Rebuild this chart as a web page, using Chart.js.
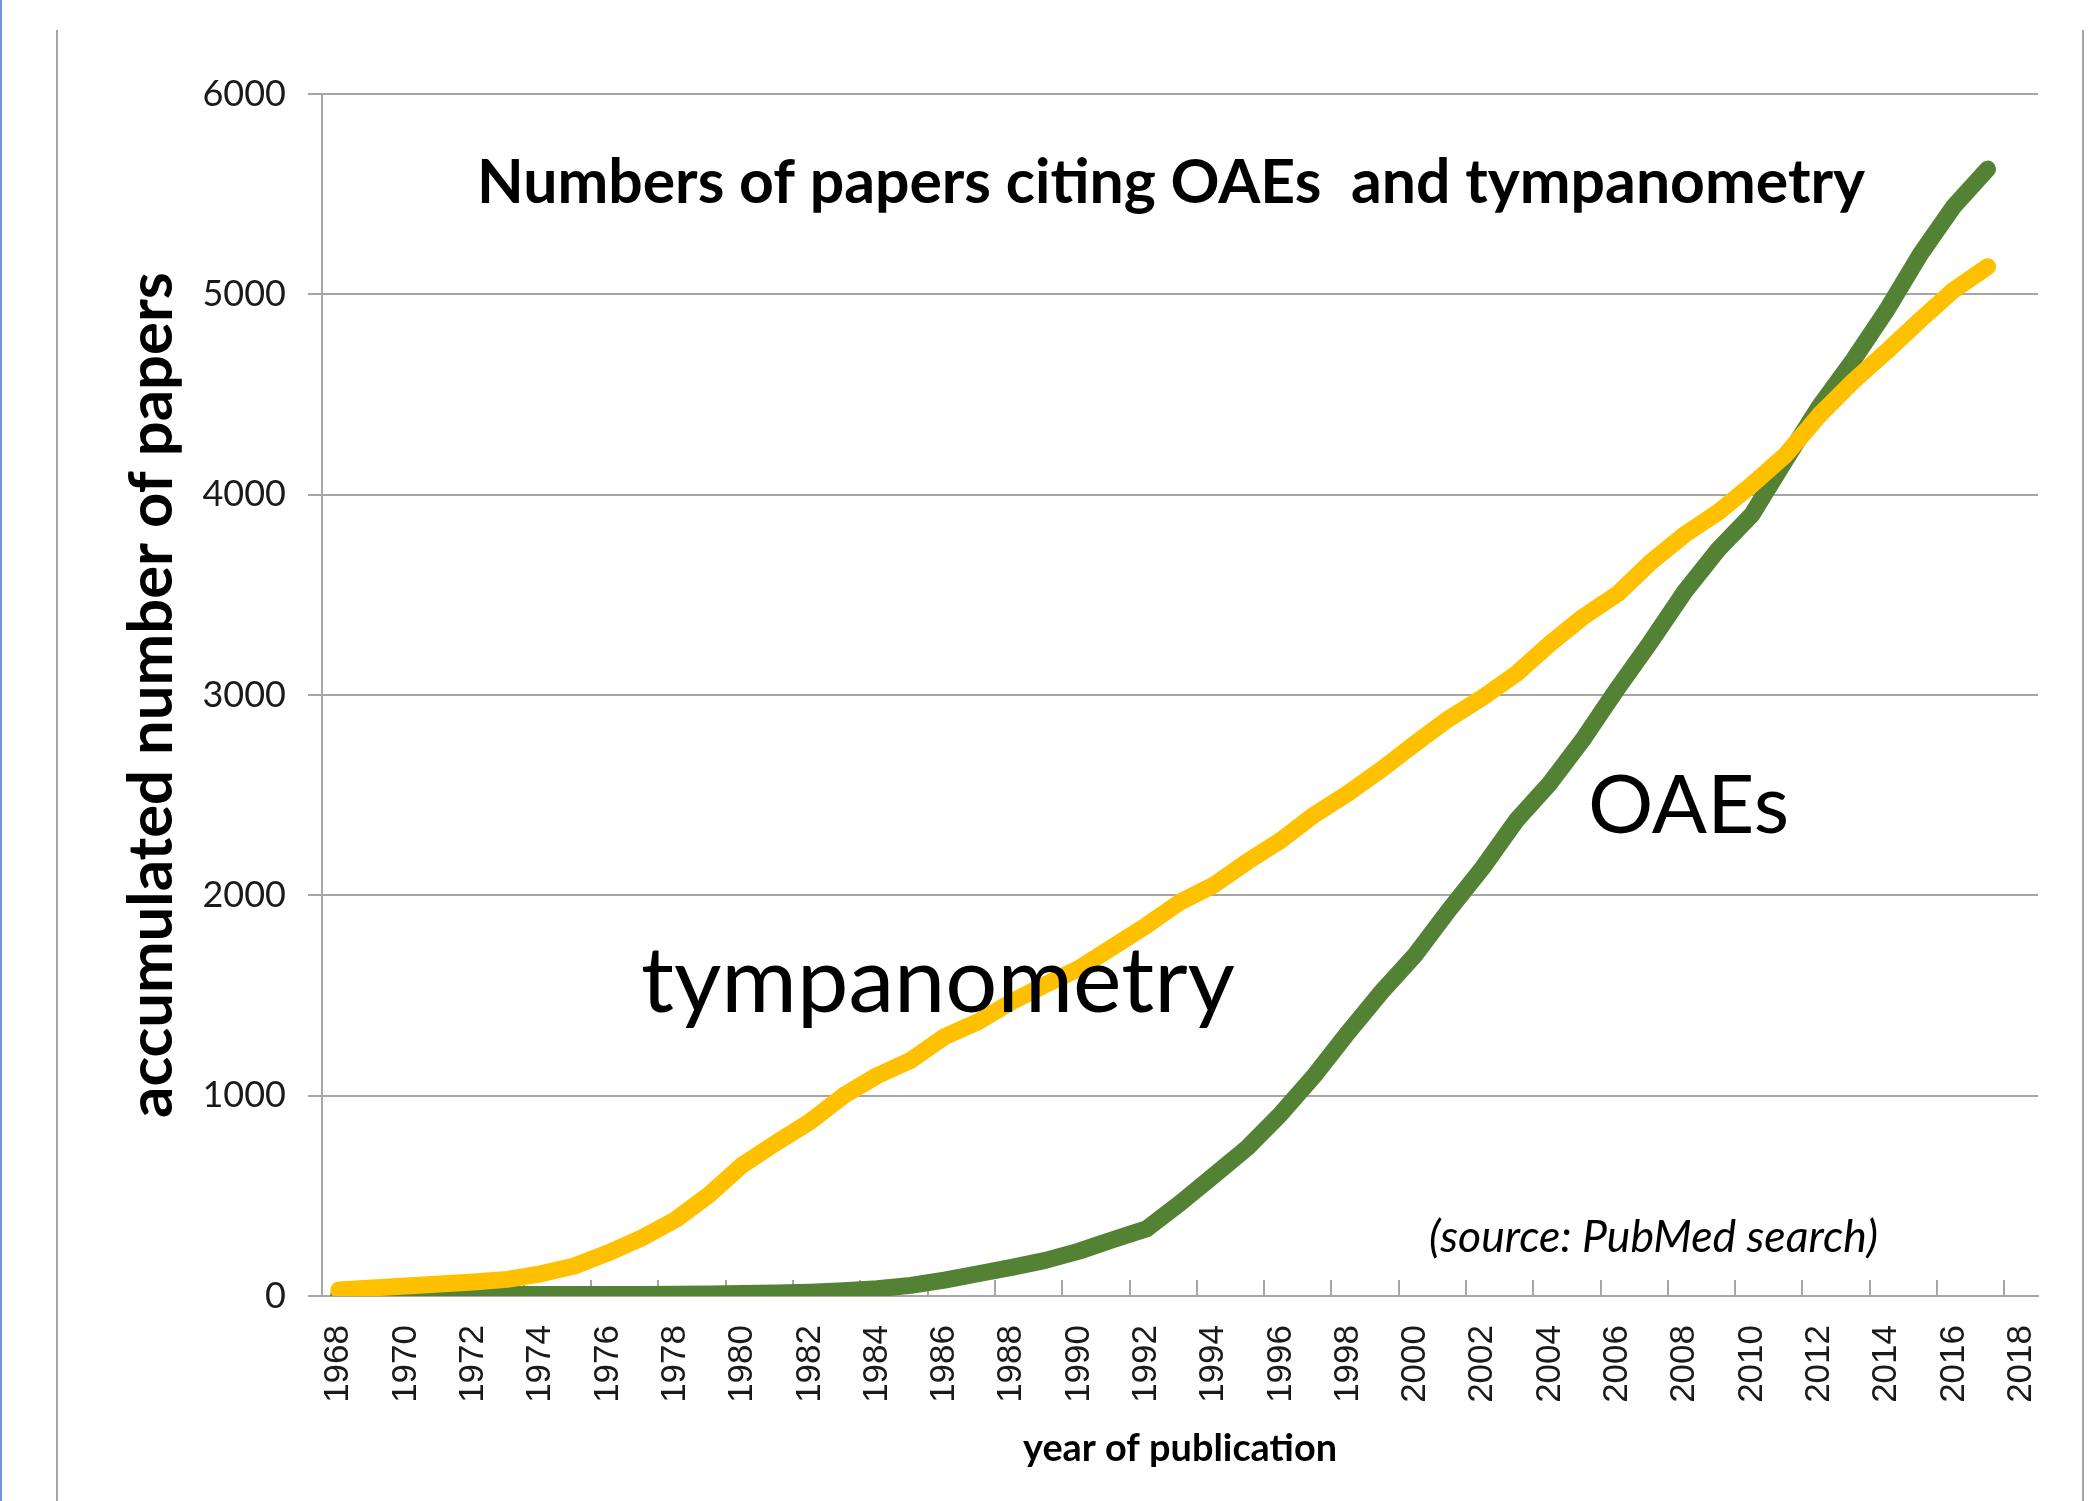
<!DOCTYPE html>
<html>
<head>
<meta charset="utf-8">
<title>Numbers of papers citing OAEs and tympanometry</title>
<script src="https://cdn.jsdelivr.net/npm/chart.js@4.4.1/dist/chart.umd.min.js"></script>
<style>
  html, body { margin: 0; padding: 0; background: #fff; }
  #wrap { position: relative; width: 2095px; height: 1501px; overflow: hidden; background: #fff; }
  #chart { position: absolute; left: 0; top: 0; }
  .edge { position: absolute; }
</style>
</head>
<body>
<div id="wrap">
  <div class="edge" style="left:0;top:0;width:2px;height:1501px;background:#6f97d8"></div>
  <div class="edge" style="left:56px;top:30px;width:2px;height:1471px;background:#a6a6a6"></div>
  <div class="edge" style="left:2082px;top:30px;width:2px;height:1471px;background:#a6a6a6"></div>
  <canvas id="chart" width="2095" height="1501"></canvas>
</div>
<script>
// categories on the x axis (one per year, only every second one is labelled)
const years = [
  '1968', '1969', '1970', '1971', '1972', '1973', '1974', '1975', '1976', '1977',
  '1978', '1979', '1980', '1981', '1982', '1983', '1984', '1985', '1986', '1987',
  '1988', '1989', '1990', '1991', '1992', '1993', '1994', '1995', '1996', '1997',
  '1998', '1999', '2000', '2001', '2002', '2003', '2004', '2005', '2006', '2007',
  '2008', '2009', '2010', '2011', '2012', '2013', '2014', '2015', '2016', '2017',
  '2018'
];

// accumulated number of papers, 1968 .. 2017
const tympanometry = [
  30, 40, 50, 60, 70, 83, 111, 150, 215, 290,
  380, 505, 655, 765, 870, 1000, 1100, 1177, 1294, 1369,
  1469, 1554, 1635, 1742, 1849, 1966, 2051, 2168, 2275, 2403,
  2510, 2630, 2759, 2883, 2988, 3107, 3256, 3392, 3504, 3665,
  3801, 3913, 4050, 4199, 4397, 4565, 4715, 4872, 5022, 5138
];

const oaes = [
  5, 5, 6, 6, 6, 7, 7, 7, 8, 8,
  9, 10, 12, 15, 19, 26, 36, 53, 79, 111,
  143, 178, 224, 281, 335, 463, 601, 740, 910, 1102,
  1316, 1520, 1705, 1928, 2139, 2375, 2561, 2784, 3032, 3268,
  3516, 3727, 3901, 4174, 4440, 4670, 4920, 5200, 5440, 5625
];

const yTicks = [0, 1000, 2000, 3000, 4000, 5000, 6000];

const calibriLike = 'Lato';
const measureCtx = document.createElement('canvas').getContext('2d');

// font size that makes a text as wide as it is in the picture
function fitSize(text, style, weight, width) {
  measureCtx.font = style + ' ' + weight + ' 100px ' + calibriLike;
  return 100 * width / measureCtx.measureText(text).width;
}

const notes = [
  { text: 'Numbers of papers citing OAEs  and tympanometry', style: 'normal', weight: 'bold', x: 477, y: 203, width: 1388 },
  { text: 'tympanometry', style: 'normal', weight: 'normal', x: 641, y: 1012, width: 594 },
  { text: 'OAEs', style: 'normal', weight: 'normal', x: 1588, y: 833, width: 201 },
  { text: '(source: PubMed search)', style: 'italic', weight: 'normal', x: 1429, y: 1252, width: 449 }
];

const notesPlugin = {
  id: 'notes',
  afterDraw(chart) {
    const ctx = chart.ctx;
    ctx.save();
    ctx.fillStyle = '#000';
    ctx.textAlign = 'left';
    ctx.textBaseline = 'alphabetic';
    notes.forEach(n => {
      const size = fitSize(n.text, n.style, n.weight, n.width);
      ctx.font = n.style + ' ' + n.weight + ' ' + size.toFixed(1) + 'px ' + calibriLike;
      ctx.fillText(n.text, n.x, n.y);
    });
    ctx.restore();
  }
};

const yTitle = 'accumulated number of papers';
const xTitle = 'year of publication';
const yTitleSize = fitSize(yTitle, 'normal', 'bold', 846);
const xTitleSize = fitSize(xTitle, 'normal', 'bold', 314);

const gridGray = '#a6a6a6';

const ctx = document.getElementById('chart').getContext('2d');
new Chart(ctx, {
  type: 'line',
  data: {
    labels: years,
    datasets: [{
      label: 'tympanometry',
      data: tympanometry,
      borderColor: '#ffc000',
      borderWidth: 17,
      borderCapStyle: 'round',
      borderJoinStyle: 'round',
      pointRadius: 0,
      tension: 0,
      fill: false
    }, {
      label: 'OAEs',
      data: oaes,
      borderColor: '#548235',
      borderWidth: 17,
      borderCapStyle: 'round',
      borderJoinStyle: 'round',
      pointRadius: 0,
      tension: 0,
      fill: false
    }]
  },
  options: {
    responsive: false,
    animation: false,
    devicePixelRatio: 1,
    layout: {
      padding: { left: 0, top: 94, right: 57, bottom: 0 }
    },
    plugins: {
      legend: { display: false },
      tooltip: { enabled: false }
    },
    scales: {
      x: {
        type: 'category',
        offset: true,
        afterFit(scale) {
          scale.height = 205;
          // rotated labels should not push the plot area in from the sides
          scale.paddingLeft = 0;
          scale.paddingRight = 0;
        },
        border: { display: true, color: gridGray, width: 2 },
        grid: {
          offset: true,
          drawOnChartArea: false,
          drawTicks: true,
          tickLength: -16,
          lineWidth: 2,
          color: c => (c.index % 2 === 0 ? gridGray : 'rgba(0,0,0,0)')
        },
        ticks: {
          autoSkip: false,
          minRotation: 90,
          maxRotation: 90,
          padding: 45,
          color: '#1a1a1a',
          font: { family: 'Liberation Sans', size: 35 },
          callback(value, index) {
            return index % 2 === 0 ? this.getLabelForValue(value) : '';
          }
        },
        title: {
          display: true,
          text: xTitle,
          color: '#000',
          font: { family: calibriLike, weight: 'bold', size: xTitleSize },
          padding: { top: 0, bottom: 29 }
        }
      },
      y: {
        min: 0,
        max: 6000,
        afterFit(scale) { scale.width = 322; },
        afterBuildTicks(scale) {
          scale.ticks = yTicks.map(v => ({ value: v }));
        },
        border: { display: true, color: gridGray, width: 2 },
        grid: {
          color: gridGray,
          lineWidth: 2,
          tickLength: 14
        },
        ticks: {
          padding: 22,
          color: '#1a1a1a',
          font: { family: calibriLike, size: 36 },
          callback: v => String(v)
        },
        title: {
          display: true,
          text: yTitle,
          color: '#000',
          font: { family: calibriLike, weight: 'bold', size: yTitleSize },
          padding: { top: 115, bottom: 0 }
        }
      }
    }
  },
  plugins: [notesPlugin]
});
</script>
</body>
</html>
